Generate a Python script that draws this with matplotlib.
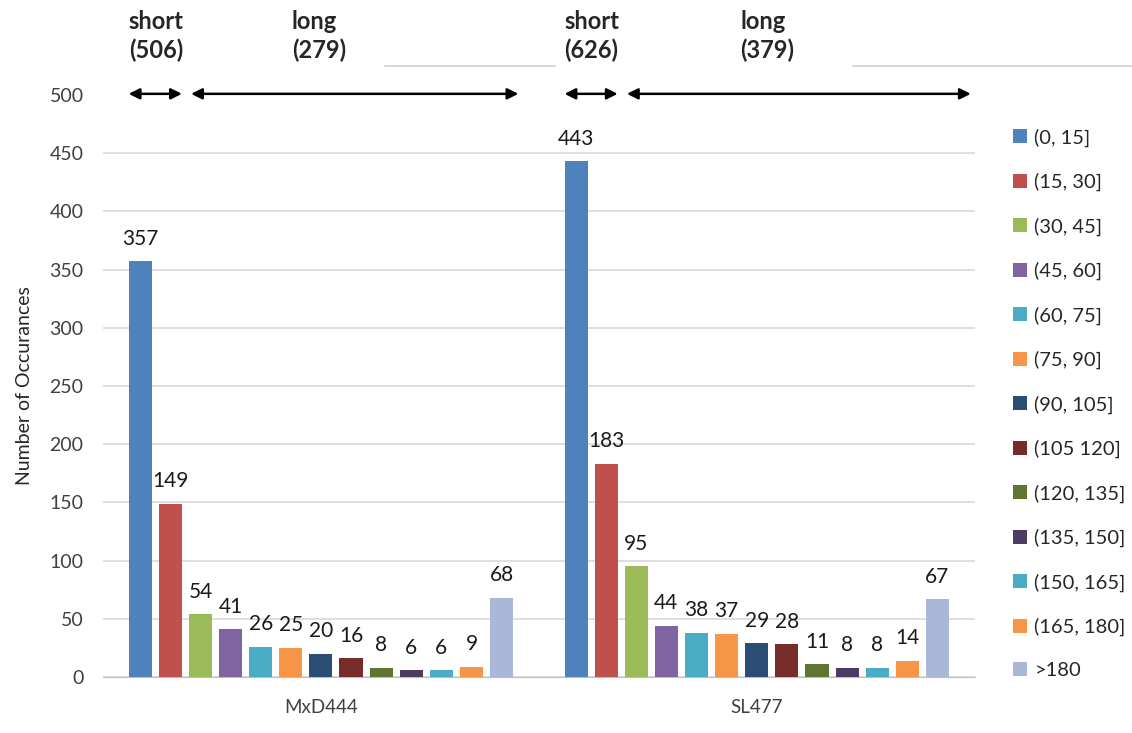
import matplotlib
matplotlib.use('Agg')
import matplotlib.pyplot as plt
from matplotlib.lines import Line2D
import numpy as np

plt.rcParams['font.family'] = ['Lato', 'DejaVu Sans']

groups = ['MxD444', 'SL477']
bins = ['(0, 15]', '(15, 30]', '(30, 45]', '(45, 60]', '(60, 75]', '(75, 90]',
        '(90, 105]', '(105 120]', '(120, 135]', '(135, 150]', '(150, 165]',
        '(165, 180]', '>180']
counts_mxd = [357, 149, 54, 41, 26, 25, 20, 16, 8, 6, 6, 9, 68]
counts_sl = [443, 183, 95, 44, 38, 37, 29, 28, 11, 8, 8, 14, 67]
totals = {'MxD444': ('506', '279'), 'SL477': ('626', '379')}

colors = ['#4F81BD', '#C0504D', '#9BBB59', '#8064A2', '#4BACC6', '#F79646',
          '#2C4D75', '#772C2A', '#5F7530', '#4D3B62', '#4BACC6', '#F79646',
          '#A9B8D8']

fig = plt.figure(figsize=(11.32, 7.33), dpi=100)
ax = fig.add_axes([0.091, 0.0764, 0.770, 0.794])

x = np.arange(len(groups))
pitch = 0.0691
width = 0.053
data = np.array([counts_mxd, counts_sl])
for i, b in enumerate(bins):
    pos = x + (i - 6) * pitch
    rects = ax.bar(pos, data[:, i], width, color=colors[i], label=b, zorder=3)
    ax.bar_label(rects, padding=9, fontsize=15, color='#1a1a1a')

ax.set_xlim(-0.5, 1.5)
ax.set_ylim(0, 500)
ax.set_yticks(np.arange(0, 501, 50))
ax.set_xticks(x)
ax.set_xticklabels(groups, fontsize=13.5, color='#404040')
ax.tick_params(axis='y', labelsize=14, labelcolor='#404040', length=0, pad=14)
ax.tick_params(axis='x', length=0, pad=16)
ax.yaxis.grid(True, color='#D9D9D9', lw=1.2, zorder=0)
ax.get_ygridlines()[-1].set_visible(False)
for s in ['top', 'right', 'left']:
    ax.spines[s].set_visible(False)
ax.spines['bottom'].set_color('#BFBFBF')
ax.set_ylabel('Number of Occurances', fontsize=14, color='#262626', labelpad=12)

# short / long arrows above each group
long_ext = [0.012, 0.05]
long_txt = [-0.067, -0.037]
for g, xc in enumerate(x):
    s_lo = xc - 6 * pitch - width / 2
    s_hi = xc - 5 * pitch + width / 2
    l_lo = xc - 4 * pitch - width / 2 + 0.005
    l_hi = xc + 6 * pitch + width / 2 + long_ext[g]
    for lo, hi in [(s_lo, s_hi), (l_lo, l_hi)]:
        ax.annotate('', xy=(lo, 501), xytext=(hi, 501),
                    arrowprops=dict(arrowstyle='<|-|>', color='black', lw=1.8,
                                    mutation_scale=16, shrinkA=0, shrinkB=0),
                    annotation_clip=False)
    short_n, long_n = totals[groups[g]]
    ax.text(s_lo, 573, 'short\n(%s)' % short_n, fontsize=17, fontweight='bold',
            color='#262626', va='top', ha='left', linespacing=1.3)
    ax.text(xc + long_txt[g], 573, 'long\n(%s)' % long_n, fontsize=17,
            fontweight='bold', color='#262626', va='top', ha='left',
            linespacing=1.3)

# leftover separator lines from the original figure
for x0, x1 in [(385, 555), (853, 1132)]:
    fig.add_artist(Line2D([x0 / 1132, x1 / 1132], [1 - 66 / 733] * 2,
                          color='#D0D0D0', lw=1.2))

ax.legend(loc='upper left', bbox_to_anchor=(0.888, 0.836),
          bbox_transform=fig.transFigure, frameon=False, fontsize=14.5,
          handlelength=0.7, handleheight=0.7, handletextpad=0.35,
          labelspacing=1.30, borderaxespad=0, labelcolor='#262626')

fig.savefig('out.png', dpi=100)
